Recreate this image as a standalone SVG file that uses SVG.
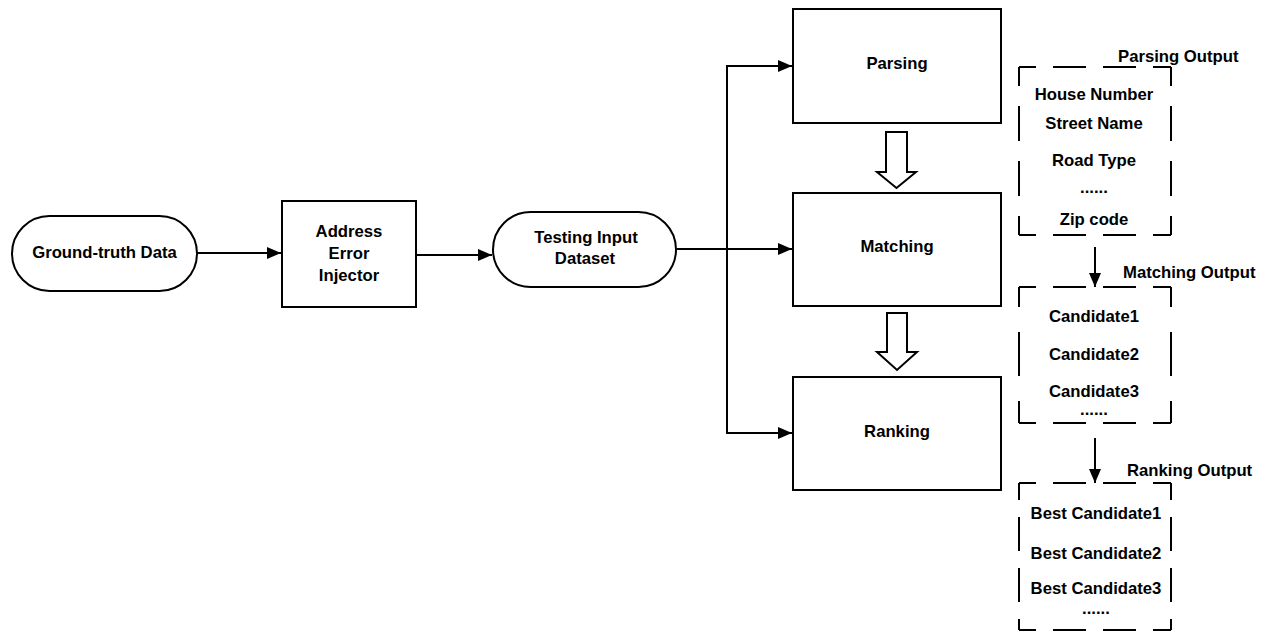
<svg xmlns="http://www.w3.org/2000/svg" width="1270" height="632" viewBox="0 0 1270 632">
<defs>
<style>
.box{fill:#fff;stroke:#000;stroke-width:2}
.ln{fill:none;stroke:#000;stroke-width:2}
.hollow{fill:#fff;stroke:#000;stroke-width:2;stroke-linejoin:miter}
.dh{fill:none;stroke:#000;stroke-width:2;stroke-dasharray:33 17;stroke-dashoffset:16}
.dv{fill:none;stroke:#000;stroke-width:2}
text{font-family:"Liberation Sans",Arial,sans-serif;font-weight:bold;font-size:16.7px;fill:#000;text-anchor:middle;dominant-baseline:central}
.lbl{text-anchor:start}
</style>
<marker id="ah" viewBox="0 0 14 12" refX="14" refY="6" markerWidth="14" markerHeight="12" markerUnits="userSpaceOnUse" orient="auto">
<path d="M0,0 L14,6 L0,12 Z" fill="#000"/>
</marker>
</defs>
<rect width="1270" height="632" fill="#fff"/>

<g id="connectors">
<line class="ln" x1="197" y1="253" x2="281" y2="253" marker-end="url(#ah)"/>
<line class="ln" x1="416" y1="255" x2="492" y2="255" marker-end="url(#ah)"/>
<line class="ln" x1="676" y1="249" x2="792" y2="249" marker-end="url(#ah)"/>
<polyline class="ln" points="727,249 727,66 792,66" marker-end="url(#ah)"/>
<polyline class="ln" points="727,249 727,433 792,433" marker-end="url(#ah)"/>
<path class="hollow" d="M886,132 H907 V172 H916 L896.5,188 L877,172 H886 Z"/>
<path class="hollow" d="M887,313 H907 V352 H917 L897,370 L877,352 H887 Z"/>
<line class="ln" x1="1095" y1="247" x2="1095" y2="287" marker-end="url(#ah)"/>
<line class="ln" x1="1095" y1="438" x2="1095" y2="483" marker-end="url(#ah)"/>
</g>

<g id="ground-truth">
<rect class="box" x="12" y="216" width="185" height="75" rx="37.5"/>
<text x="104.5" y="252">Ground-truth Data</text>
</g>

<g id="error-injector">
<rect class="box" x="282" y="201" width="134" height="106"/>
<text x="349" y="231">Address</text>
<text x="349" y="253">Error</text>
<text x="349" y="275">Injector</text>
</g>

<g id="testing-input">
<rect class="box" x="493" y="212" width="183" height="75" rx="37.5"/>
<text x="586" y="237">Testing Input</text>
<text x="585" y="258">Dataset</text>
</g>

<g id="parsing">
<rect class="box" x="793" y="9" width="208" height="114"/>
<text x="897" y="63">Parsing</text>
</g>

<g id="matching">
<rect class="box" x="793" y="193" width="208" height="113"/>
<text x="897" y="246">Matching</text>
</g>

<g id="ranking">
<rect class="box" x="793" y="377" width="208" height="113"/>
<text x="897" y="431">Ranking</text>
</g>

<g id="parsing-output">
<text class="lbl" x="1118" y="56">Parsing Output</text>
<path class="dh" d="M1019,67 H1171 M1019,235 H1171"/>
<path class="dv" style="stroke-dasharray:35 20;stroke-dashoffset:16" d="M1019,67 V235 M1171,67 V235"/>
<text x="1094" y="94">House Number</text>
<text x="1094" y="123">Street Name</text>
<text x="1094" y="160">Road Type</text>
<text x="1094" y="187">......</text>
<text x="1094" y="219">Zip code</text>
</g>

<g id="matching-output">
<text class="lbl" x="1123" y="272">Matching Output</text>
<path class="dh" d="M1019,287 H1171 M1019,423 H1171"/>
<path class="dv" style="stroke-dasharray:44 25;stroke-dashoffset:24" d="M1019,287 V423 M1171,287 V423"/>
<text x="1094" y="316">Candidate1</text>
<text x="1094" y="354">Candidate2</text>
<text x="1094" y="391">Candidate3</text>
<text x="1094" y="409">......</text>
</g>

<g id="ranking-output">
<text class="lbl" x="1127" y="470">Ranking Output</text>
<path class="dh" d="M1019,483 H1171 M1019,630 H1171"/>
<path class="dv" style="stroke-dasharray:34 17;stroke-dashoffset:17" d="M1019,483 V630 M1171,483 V630"/>
<text x="1096" y="513">Best Candidate1</text>
<text x="1096" y="553">Best Candidate2</text>
<text x="1096" y="588">Best Candidate3</text>
<text x="1096" y="608">......</text>
</g>
</svg>
